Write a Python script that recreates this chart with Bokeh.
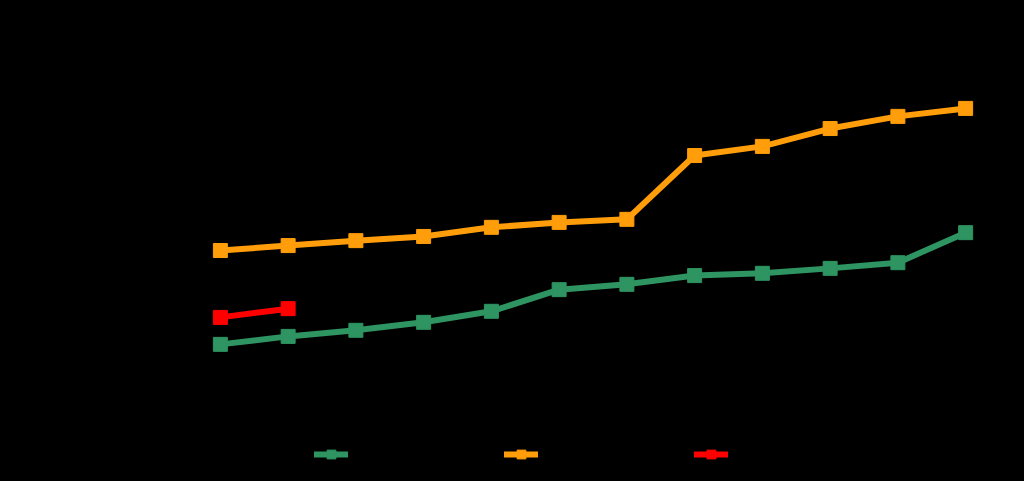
from bokeh.plotting import figure
from bokeh.models import FactorRange, Range1d, Legend, LegendItem, ColumnDataSource
from bokeh.embed import file_html
from bokeh.resources import INLINE

years = ["2010", "2011", "2012", "2013", "2014", "2015", "2016", "2017", "2018", "2019", "2020", "2021"]
series_green = [17.4, 19.5, 21.1, 23.2, 26.1, 31.8, 33.2, 35.5, 36.1, 37.4, 38.9, 46.8]
series_orange = [42.1, 43.4, 44.7, 45.8, 48.2, 49.5, 50.3, 67.1, 69.5, 74.2, 77.4, 79.5]
red_years = ["2010", "2011"]
series_red = [24.5, 26.8]
names = ["Series A", "Series B", "Series C"]

GREEN = "#2e9461"
ORANGE = "#ff9d0a"
RED = "#ff0000"
BLACK = "#000000"

p = figure(width=1008, height=478, x_range=FactorRange(*years, range_padding=0),
           y_range=Range1d(-14.74, 100), output_backend="svg", toolbar_location=None,
           background_fill_color=BLACK, border_fill_color=BLACK,
           min_border_left=186, min_border_right=9, min_border_top=30, min_border_bottom=12)
p.outline_line_color = None
p.grid.grid_line_color = None
for ax in (p.xaxis, p.yaxis):
    ax.axis_line_color = BLACK
    ax.major_tick_line_color = BLACK
    ax.minor_tick_line_color = None
    ax.major_label_text_color = BLACK
p.xaxis.major_tick_out = 0
p.xaxis.major_tick_in = 0
p.xaxis.major_label_standoff = 1
p.xaxis.major_label_text_font_size = "8px"

items = []
for xs, ys, col, name in ((years, series_green, GREEN, names[0]),
                          (years, series_orange, ORANGE, names[1]),
                          (red_years, series_red, RED, names[2])):
    src = ColumnDataSource(dict(x=xs, y=ys))
    l = p.line("x", "y", source=src, line_color=col, line_width=6, line_join="round", line_cap="round")
    s = p.scatter("x", "y", source=src, marker="square", size=14, fill_color=col, line_color=col)
    items.append(LegendItem(label=name, renderers=[l, s]))

legend = Legend(items=items, orientation="horizontal", location=(128, 1),
                glyph_width=34, glyph_height=22, label_height=22, label_width=135,
                label_standoff=8, spacing=13, padding=0, margin=0,
                label_text_color=BLACK, border_line_alpha=0, background_fill_alpha=0)
p.add_layout(legend, "center")

html = file_html(p, INLINE)
html = html.replace("<head>", "<head><style>body{background:#000000;}</style>", 1)
open("out.html", "w").write(html)
